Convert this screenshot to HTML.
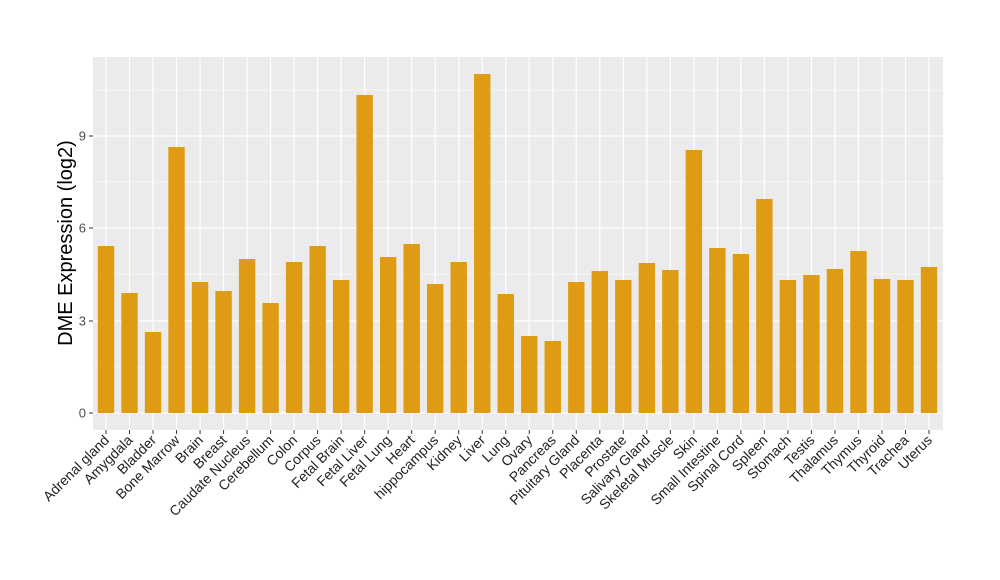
<!DOCTYPE html>
<html><head><meta charset="utf-8"><style>body{margin:0;background:#fff}svg{display:block}text{font-family:"Liberation Sans",Arial,sans-serif}</style></head><body>
<svg id="s" width="1000" height="580" xmlns="http://www.w3.org/2000/svg"></svg>
<script>
const s=document.getElementById('s');
const names=["Adrenal gland","Amygdala","Bladder","Bone Marrow","Brain","Breast","Caudate Nucleus","Cerebellum","Colon","Corpus","Fetal Brain","Fetal Liver","Fetal Lung","Heart","hippocampus","Kidney","Liver","Lung","Ovary","Pancreas","Pituitary Gland","Placenta","Prostate","Salivary Gland","Skeletal Muscle","Skin","Small Intestine","Spinal Cord","Spleen","Stomach","Testis","Thalamus","Thymus","Thyroid","Trachea","Uterus"];
const tops=[246,293,332,147,282,291,259,303,262,246,280,95,257,244,284,262,74,294,336,341,282,271,280,263,270,150,248,254,199,280,275,269,251,279,280,267];
let h='<rect x="93" y="57" width="850" height="373" fill="#ebebeb"/>';
[90,182,274,367].forEach(y=>h+=`<line x1="93" x2="943" y1="${y}" y2="${y}" stroke="#fff" stroke-width="0.6"/>`);
[413,321,228,136].forEach(y=>h+=`<line x1="93" x2="943" y1="${y}" y2="${y}" stroke="#fff" stroke-width="1.2"/>`);
const step=(929-106)/35;
names.forEach((n,i)=>{const c=106+i*step;h+=`<line x1="${c}" x2="${c}" y1="57" y2="430" stroke="#fff" stroke-width="1.2"/>`;});
names.forEach((n,i)=>{const c=106+i*step;h+=`<rect x="${c-8.2}" y="${tops[i]}" width="16.4" height="${413-tops[i]}" fill="#e09b14"/>`;
h+=`<line x1="${c}" x2="${c}" y1="430" y2="434" stroke="#333"/>`;
h+=`<text transform="translate(${c+4},${441}) rotate(-45)" text-anchor="end" font-size="14" fill="#222">${n}</text>`;});
[[413,"0"],[321,"3"],[228,"6"],[136,"9"]].forEach(([y,t])=>{h+=`<line x1="89" x2="93" y1="${y}" y2="${y}" stroke="#333"/><text x="86" y="${y+4.5}" text-anchor="end" font-size="13" fill="#4d4d4d">${t}</text>`;});
h+=`<text transform="translate(72,243) rotate(-90)" text-anchor="middle" font-size="20" fill="#000">DME Expression (log2)</text>`;
s.innerHTML=h;
</script>
</body></html>
